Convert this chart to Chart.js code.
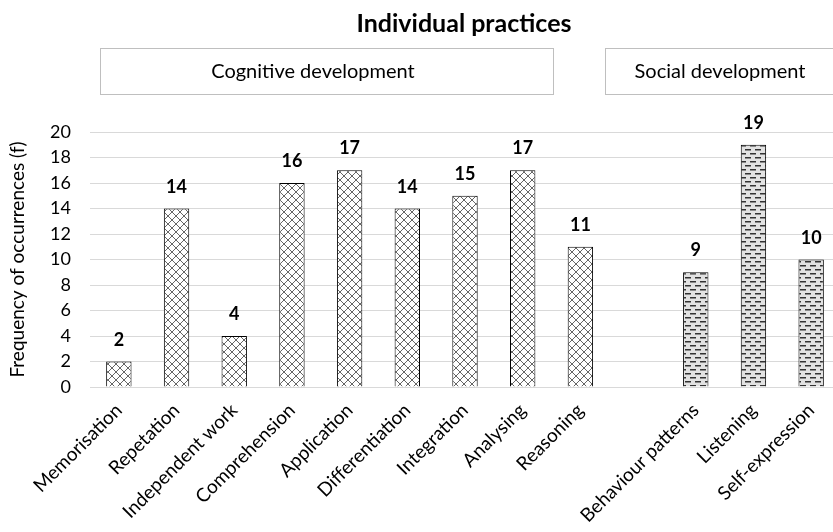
<!DOCTYPE html>
<html>
<head>
<meta charset="utf-8">
<script src="https://cdn.jsdelivr.net/npm/chart.js@4.4.0/dist/chart.umd.min.js"></script>
<style>
  html, body { margin: 0; padding: 0; background: #fff; overflow: hidden; }
  #wrap { width: 840px; height: 532px; }
</style>
</head>
<body>
<div id="wrap"><canvas id="myChart" width="840" height="532"></canvas></div>
<script>
// data
let categories = ['Memorisation', 'Repetation', 'Independent work', 'Comprehension', 'Application',
  'Differentiation', 'Integration', 'Analysing', 'Reasoning', '', 'Behaviour patterns', 'Listening', 'Self-expression'];
let cognitive = [2, 14, 4, 16, 17, 14, 15, 17, 11, null, null, null, null];
let social = [null, null, null, null, null, null, null, null, null, null, 9, 19, 10];
let yTicks = [0, 2, 4, 6, 8, 10, 12, 14, 16, 18, 20];
let groups = ['Cognitive development', 'Social development'];

const FONT = 'Lato, "Open Sans", sans-serif';

function crossPattern() {
  const c = document.createElement('canvas');
  c.width = 8; c.height = 8;
  const g = c.getContext('2d');
  g.fillStyle = '#fff';
  g.fillRect(0, 0, 8, 8);
  g.strokeStyle = '#555';
  g.lineWidth = 0.9;
  g.beginPath();
  g.moveTo(0, 0); g.lineTo(8, 8);
  g.moveTo(8, 0); g.lineTo(0, 8);
  g.stroke();
  return g.createPattern(c, 'repeat');
}

function dashPattern() {
  const c = document.createElement('canvas');
  c.width = 10; c.height = 8;
  const g = c.getContext('2d');
  g.fillStyle = '#e2e2e2';
  g.fillRect(0, 0, 10, 8);
  g.fillStyle = '#333';
  g.fillRect(0, 1, 6, 1.5);
  g.fillRect(5, 5, 6, 1.5);
  g.fillRect(-5, 5, 6, 1.5);
  return g.createPattern(c, 'repeat');
}

const headerPlugin = {
  id: 'header',
  afterDraw(chart) {
    const ctx = chart.ctx;
    ctx.save();
    ctx.fillStyle = '#000';
    ctx.font = 'bold 25px ' + FONT;
    ctx.textAlign = 'center';
    ctx.textBaseline = 'middle';
    ctx.fillText('Individual practices', 464, 24);

    ctx.font = '20px ' + FONT;
    ctx.strokeStyle = '#bfbfbf';
    ctx.lineWidth = 1;
    let boxes = [[100, 553], [605, 850]];
    let textX = [313, 720];
    groups.forEach((label, i) => {
      const b = boxes[i];
      ctx.strokeRect(b[0] + 0.5, 48.5, b[1] - b[0], 46);
      ctx.fillText(label, textX[i], 72);
    });

    // value labels
    ctx.font = 'bold 18px ' + FONT;
    ctx.textBaseline = 'alphabetic';
    chart.data.datasets.forEach((ds, di) => {
      const meta = chart.getDatasetMeta(di);
      meta.data.forEach((bar, i) => {
        const v = ds.data[i];
        if (v === null || v === undefined) return;
        ctx.fillText(String(v), bar.x, bar.y - 16);
      });
    });
    ctx.restore();
  }
};

new Chart(document.getElementById('myChart'), {
  type: 'bar',
  data: {
    labels: categories,
    datasets: [
      {
        label: 'Cognitive development',
        data: cognitive,
        backgroundColor: crossPattern(),
        borderColor: '#000',
        borderWidth: 1,
        borderSkipped: 'bottom',
        grouped: false,
        barPercentage: 0.44,
        categoryPercentage: 1
      },
      {
        label: 'Social development',
        data: social,
        backgroundColor: dashPattern(),
        borderColor: '#000',
        borderWidth: 1,
        borderSkipped: 'bottom',
        grouped: false,
        barPercentage: 0.44,
        categoryPercentage: 1
      }
    ]
  },
  options: {
    responsive: false,
    animation: false,
    layout: { padding: { top: 132, left: 0, right: 0, bottom: 0 } },
    plugins: {
      legend: { display: false },
      tooltip: { enabled: false }
    },
    scales: {
      x: {
        grid: { display: false },
        border: { color: '#d9d9d9', width: 1 },
        ticks: {
          color: '#000',
          font: { family: FONT, size: 19 },
          minRotation: 45,
          maxRotation: 45,
          autoSkip: false,
          padding: 4
        },
        afterFit(s) { s.height = 145; }
      },
      y: {
        min: 0,
        max: 20,
        afterBuildTicks(s) { s.ticks = yTicks.map(v => ({ value: v })); },
        grid: { color: '#d9d9d9', drawTicks: false },
        border: { display: false },
        ticks: {
          color: '#000',
          font: { family: FONT, size: 18 },
          padding: 19
        },
        title: {
          display: true,
          text: 'Frequency of occurrences (f)',
          color: '#000',
          font: { family: FONT, size: 19 },
          padding: { top: 6, bottom: 4 }
        },
        afterFit(s) { s.width = 90; }
      }
    }
  },
  plugins: [headerPlugin]
});
</script>
</body>
</html>
